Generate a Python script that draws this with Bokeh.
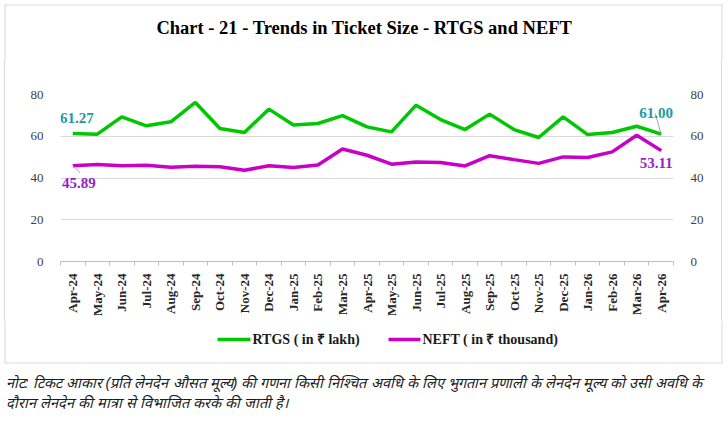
from bokeh.plotting import figure
from bokeh.models import Range1d, LinearAxis, FixedTicker, Label
from bokeh.core.properties import value
from bokeh.layouts import column
from bokeh.embed import file_html
from bokeh.resources import INLINE

months = ["Apr-24", "May-24", "Jun-24", "Jul-24", "Aug-24", "Sep-24", "Oct-24", "Nov-24",
          "Dec-24", "Jan-25", "Feb-25", "Mar-25", "Apr-25", "May-25", "Jun-25", "Jul-25",
          "Aug-25", "Sep-25", "Oct-25", "Nov-25", "Dec-25", "Jan-26", "Feb-26", "Mar-26",
          "Apr-26"]
rtgs = [61.27, 61.0, 69.3, 65.0, 66.9, 76.2, 63.7, 61.8, 73.0, 65.4, 66.1, 69.9, 64.5,
        62.1, 74.9, 68.0, 63.2, 70.6, 63.2, 59.4, 69.3, 60.8, 61.8, 64.8, 61.00]
neft = [45.89, 46.5, 45.9, 46.1, 45.1, 45.6, 45.4, 43.7, 45.9, 45.0, 46.2, 53.9, 50.9,
        46.6, 47.7, 47.4, 45.8, 50.7, 48.8, 47.0, 50.1, 49.8, 52.5, 60.5, 53.11]
y_ticks = [0, 20, 40, 60, 80]
title_text = "Chart - 21 - Trends in Ticket Size - RTGS and NEFT"
series_names = ["RTGS ( in ₹ lakh)", "NEFT ( in ₹ thousand)"]
note_lines = [
    "नोट: टिकट आकार (प्रति लेनदेन औसत मूल्य) की गणना किसी निश्चित अवधि के लिए भुगतान प्रणाली के लेनदेन मूल्य को उसी अवधि के",
    "दौरान लेनदेन की मात्रा से विभाजित करके की जाती है।",
]

W = 728
SERIF = "Liberation Serif"
GREEN = "#00c800"
MAGENTA = "#c800c8"
TEAL = "#1c9aa6"
PURPLE = "#9a1ec8"
BORDER = "#d9d9d9"

TOP_H, CHART_H, BOT_H = 60, 260, 104
FL, FR, FT, FB = 60, 673, 94 - TOP_H, 261 - TOP_H  # frame edges inside chart figure


def no_align(f):
    if "frame_align" in f.properties():
        f.frame_align = False
    return f


def blank(h):
    f = figure(width=W, height=h, output_backend="svg", toolbar_location=None,
               x_range=Range1d(0, W), y_range=Range1d(h, 0), min_border=0,
               x_axis_location=None, y_axis_location=None)
    f.grid.visible = False
    f.outline_line_color = None
    return no_align(f)


# ---- title strip -------------------------------------------------------
top = blank(TOP_H)
top.text(x=[W / 2], y=[27], text=[title_text], text_font=value(SERIF),
         text_font_style="bold", text_font_size="18.5px", text_color="#000000",
         text_align="center", text_baseline="middle")
top.segment(x0=[4, 4.5, 721.5], y0=[4.5, 4, 4], x1=[722, 4.5, 721.5], y1=[4.5, TOP_H, TOP_H],
            line_color=BORDER, line_width=1)

# ---- chart -------------------------------------------------------------
x = list(range(len(months)))
p = figure(width=W, height=CHART_H, output_backend="svg", toolbar_location=None,
           x_range=Range1d(-0.5, len(months) - 0.5), y_range=Range1d(0, 80),
           min_border_left=FL, min_border_right=W - FR, min_border_top=FT,
           min_border_bottom=CHART_H - FB)
no_align(p)
p.outline_line_color = None
p.border_fill_color = None
p.styles = {"box-shadow": "inset 4px 0 0 0 #ffffff, inset 5px 0 0 0 #d9d9d9, "
                          "inset -6px 0 0 0 #ffffff, inset -7px 0 0 0 #d9d9d9"}

p.xaxis.ticker = FixedTicker(ticks=x, minor_ticks=[i - 0.5 for i in range(len(months) + 1)])
p.xaxis.major_label_overrides = {i: m for i, m in enumerate(months)}
p.xaxis.major_label_orientation = 1.5707963
p.xaxis.major_tick_line_color = None
p.xaxis.major_tick_out = 0
p.xaxis.major_tick_in = 0
p.xaxis.minor_tick_line_color = "#bfbfbf"
p.xaxis.minor_tick_out = 4
p.xaxis.minor_tick_in = 0
p.xaxis.axis_line_color = "#bfbfbf"
p.xaxis.major_label_text_font = SERIF
p.xaxis.major_label_text_font_style = "bold"
p.xaxis.major_label_text_font_size = "13px"
p.xaxis.major_label_text_color = "#262626"
p.xaxis.major_label_standoff = 8

p.yaxis.ticker = FixedTicker(ticks=y_ticks)
p.add_layout(LinearAxis(ticker=FixedTicker(ticks=y_ticks)), "right")
for ax in p.yaxis:
    ax.axis_line_color = None
    ax.major_tick_line_color = None
    ax.minor_tick_line_color = None
    ax.major_label_text_font = SERIF
    ax.major_label_text_font_size = "13px"
    ax.major_label_text_color = "#404040"
    ax.major_label_standoff = 11

p.xgrid.grid_line_color = None
p.ygrid.ticker = FixedTicker(ticks=y_ticks)
p.ygrid.grid_line_color = BORDER

p.line(x, rtgs, line_color=GREEN, line_width=3.5)
p.line(x, neft, line_color=MAGENTA, line_width=3.5)

# leader lines for data labels
p.segment(x0=[x[0]], y0=[neft[0]], x1=[x[0] + 0.3], y1=[neft[0] - 3.3],
          line_color="#a6a6a6", line_width=1)
p.segment(x0=[x[-1] - 0.25], y0=[rtgs[-1] + 10], x1=[x[-1]], y1=[rtgs[-1]],
          line_color="#a6a6a6", line_width=1)


def dlabel(xv, yv, txt, color, dx, dy):
    p.add_layout(Label(x=xv, y=yv, text=txt, x_offset=dx, y_offset=dy,
                       text_font=SERIF, text_font_style="bold", text_font_size="15px",
                       text_color=color, text_align="center", text_baseline="middle"))


dlabel(x[0], rtgs[0], f"{rtgs[0]:.2f}", TEAL, 4, 16)
dlabel(x[0], neft[0], f"{neft[0]:.2f}", PURPLE, 6, -17)
dlabel(x[-1], rtgs[-1], f"{rtgs[-1]:.2f}", TEAL, -5, 21)
dlabel(x[-1], neft[-1], f"{neft[-1]:.2f}", PURPLE, -5, -12)

# ---- legend + note strip ------------------------------------------------
bot = blank(BOT_H)
LY = 19
bot.segment(x0=[217, 388], y0=[LY, LY], x1=[250, 420], y1=[LY, LY],
            line_color=[GREEN, MAGENTA], line_width=3.5)
bot.text(x=[252, 422], y=[LY, LY], text=series_names, text_font=value(SERIF),
         text_font_style="bold", text_font_size="14px", text_color="#1a1a1a",
         text_baseline="middle")
bot.segment(x0=[4.5, 721.5, 4], y0=[0, 0, 42.5], x1=[4.5, 721.5, 722], y1=[42.5, 42.5, 42.5],
            line_color=BORDER, line_width=1)
bot.text(x=[5, 5], y=[62, 82], text=note_lines, text_font=value("Liberation Sans"),
         text_font_style="italic", text_font_size="14.5px", text_color="#1a1a1a",
         text_baseline="middle")

layout = column(top, p, bot, spacing=0)
open("out.html", "w").write(file_html(layout, INLINE))
